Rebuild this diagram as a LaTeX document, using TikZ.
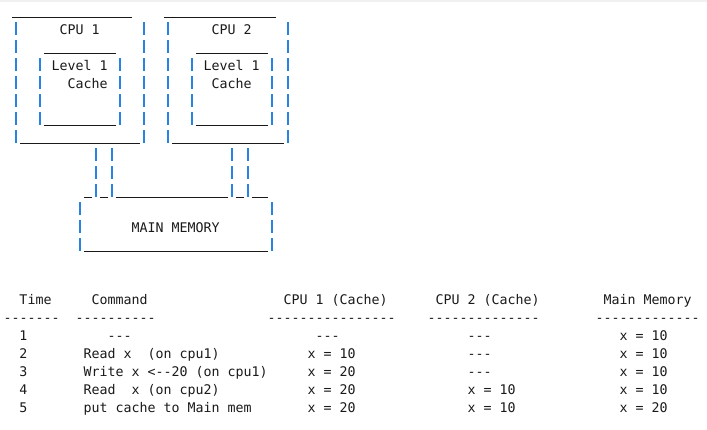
\documentclass[tikz,border=0pt]{standalone}
\usepackage{fontspec}
\setmonofont{DejaVu Sans Mono}
\definecolor{pipeblue}{RGB}{40,132,228}
\definecolor{ink}{RGB}{25,25,25}
\definecolor{topstrip}{RGB}{240,240,240}
% text node at column #2, line #3
\newcommand\asciitxt[4]{\node[mono] (#1) at ({3.5+8*(#2)},{16+18*(#3)}) {#4};}
% pipe glyph at column #1, line #2
\newcommand\asciipipe[2]{%
  \fill[pipeblue] ({7+8*(#1)},{18*(#2)+4}) rectangle ({9+8*(#1)},{18*(#2)+17});}
% underscores from column #1 to column #2 on line #3
\newcommand\asciiunder[3]{\fill[ink] ({3.5+8*(#1)},{18*(#3)+17}) rectangle ({3.5+8*(#2+1)},{18*(#3)+18.1});}
\begin{document}
\begin{tikzpicture}[x=1pt,y=-1pt,
  mono/.style={font=\ttfamily\fontsize{13.29}{18}\selectfont, text=ink, anchor=base west, inner sep=0pt, outer sep=0pt}]
\useasboundingbox (0,0) rectangle (707,429);
\fill[topstrip] (0,0) rectangle (707,2.3);
% ---------- boxes ----------
% CPU boxes outer
\asciiunder{1}{15}{0}
\asciiunder{20}{33}{0}
\foreach \k in {1,...,7} {\foreach \g in {1,17,20,35} {\asciipipe{\g}{\k}}}
\asciiunder{2}{16}{7}
\asciiunder{21}{34}{7}
% cache boxes
\asciiunder{5}{13}{2}
\asciiunder{24}{32}{2}
\foreach \k in {3,...,6} {\foreach \g in {4,14,23,33} {\asciipipe{\g}{\k}}}
\asciiunder{5}{13}{6}
\asciiunder{24}{32}{6}
% bus connectors
\foreach \k in {8,9,10} {\foreach \g in {11,13,28,30} {\asciipipe{\g}{\k}}}
\asciiunder{10}{10}{10}
\asciiunder{12}{12}{10}
\asciiunder{14}{27}{10}
\asciiunder{29}{29}{10}
\asciiunder{31}{32}{10}
% main memory box
\foreach \k in {11,12,13} {\foreach \g in {9,33} {\asciipipe{\g}{\k}}}
\asciiunder{10}{32}{13}
% box labels
\asciitxt{cpu1}{7}{1}{CPU 1}
\asciitxt{cpu2}{26}{1}{CPU 2}
\asciitxt{lvA}{6}{3}{Level 1}
\asciitxt{lvB}{25}{3}{Level 1}
\asciitxt{caA}{8}{4}{Cache}
\asciitxt{caB}{26}{4}{Cache}
\asciitxt{mm}{16}{12}{MAIN MEMORY}
% ---------- table ----------
\asciitxt{hT}{2}{16}{Time}
\asciitxt{hC}{11}{16}{Command}
\asciitxt{hA}{35}{16}{CPU 1 (Cache)}
\asciitxt{hB}{54}{16}{CPU 2 (Cache)}
\asciitxt{hM}{75}{16}{Main Memory}
\asciitxt{dT}{0}{17}{-------}
\asciitxt{dC}{9}{17}{----------}
\asciitxt{dA}{33}{17}{----------------}
\asciitxt{dB}{53}{17}{--------------}
\asciitxt{dM}{74}{17}{-------------}
% row 1
\asciitxt{t1}{2}{18}{1}
\asciitxt{c1}{13}{18}{---}
\asciitxt{a1}{39}{18}{---}
\asciitxt{b1}{58}{18}{---}
\asciitxt{m1}{77}{18}{x = 10}
% row 2
\asciitxt{t2}{2}{19}{2}
\asciitxt{c2}{10}{19}{Read x~~(on cpu1)}
\asciitxt{a2}{38}{19}{x = 10}
\asciitxt{b2}{58}{19}{---}
\asciitxt{m2}{77}{19}{x = 10}
% row 3
\asciitxt{t3}{2}{20}{3}
\asciitxt{c3}{10}{20}{Write x <--20 (on cpu1)}
\asciitxt{a3}{38}{20}{x = 20}
\asciitxt{b3}{58}{20}{---}
\asciitxt{m3}{77}{20}{x = 10}
% row 4
\asciitxt{t4}{2}{21}{4}
\asciitxt{c4}{10}{21}{Read~~x (on cpu2)}
\asciitxt{a4}{38}{21}{x = 20}
\asciitxt{b4}{58}{21}{x = 10}
\asciitxt{m4}{77}{21}{x = 10}
% row 5
\asciitxt{t5}{2}{22}{5}
\asciitxt{c5}{10}{22}{put cache to Main mem}
\asciitxt{a5}{38}{22}{x = 20}
\asciitxt{b5}{58}{22}{x = 10}
\asciitxt{m5}{77}{22}{x = 20}
\end{tikzpicture}
\end{document}
